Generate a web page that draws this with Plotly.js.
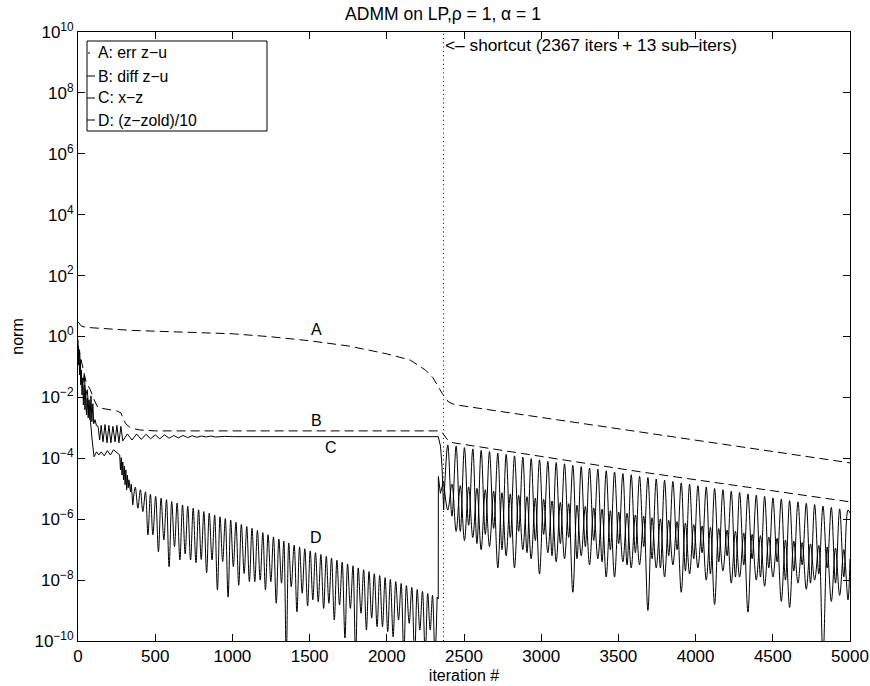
<!DOCTYPE html>
<html>
<head>
<meta charset="utf-8">
<script src="https://cdn.plot.ly/plotly-3.0.1.min.js"></script>
<style>html,body{margin:0;padding:0;background:#fff;}#chart{width:870px;height:686px;}</style>
</head>
<body>
<div id="chart"></div>
<script>
// ---------- DATA (stored as log10 exponents) ----------
// A: err z-u (dashed)
const aIter = [0, 20, 50, 100, 200, 350, 500, 750, 1000, 1250, 1500, 1750, 2000, 2150, 2250, 2300, 2335, 2360, 2380, 2400, 2440, 3000, 3650, 4300, 5000];
const aExp  = [0.48, 0.35, 0.30, 0.29, 0.25, 0.20, 0.17, 0.12, 0.09, -0.01, -0.14, -0.31, -0.57, -0.77, -1.1, -1.36, -1.69, -1.88, -2.01, -2.15, -2.24, -2.66, -3.14, -3.63, -4.15];

// B: diff z-u (dashed)
const bIter = [0, 20, 52, 80, 104, 130, 214, 250, 279, 290, 310, 340, 400, 500, 2340, 2360, 2380, 2400, 2430, 3650, 5000];
const bExp  = [-0.3, -0.77, -1.49, -1.75, -2.08, -2.34, -2.41, -2.44, -2.51, -2.67, -2.87, -3.0, -3.07, -3.1, -3.1, -3.16, -3.3, -3.43, -3.49, -4.45, -5.43];

// C: x-z (solid) — start, plateau and drop at the shortcut
const cHeadIter = [0,3,6,10,14,18,22,26,30,35,40,45,50,55,60,66,72,78,84,90,96,102,110,120,130,140,150,162,175,188,200,213,226,240,252,265,278,290,320,350,380,410,440,470,500,530,560,590,620,650,680,710,740,770,800,830,860,890,950,1000,2333,2348,2358,2368];
const cHeadExp  = [-0.1,-0.93,-0.44,-1.26,-0.77,-1.59,-1.1,-1.92,-1.36,-2.25,-1.59,-2.41,-1.82,-2.57,-2.02,-2.67,-2.08,-2.73,-1.95,-2.8,-2.21,-2.87,-2.73,-2.93,-2.95,-3.4,-2.92,-3.46,-2.89,-3.49,-2.92,-3.49,-2.95,-3.46,-2.92,-3.49,-2.95,-3.43,-3.2,-3.4,-3.2,-3.38,-3.21,-3.36,-3.23,-3.36,-3.23,-3.34,-3.25,-3.33,-3.25,-3.32,-3.26,-3.31,-3.27,-3.3,-3.27,-3.3,-3.28,-3.29,-3.29,-3.6,-4.3,-5.7];

// iterations of the arc tops / troughs after the shortcut
const postIterA = [2395,2449,2503,2557,2611,2665,2719,2773,2827,2881,2935,2989,3043,3097,3151,3205,3259,3313,3367,3421,3475,3529,3583,3637,3691,3745,3799,3853,3907,3961,4015,4069,4123,4177,4231,4285,4339,4393,4447,4501,4555,4609,4663,4717,4771,4825,4879,4933,4987];
const postIterB = [2368,2422,2476,2530,2584,2638,2692,2746,2800,2854,2908,2962,3016,3070,3124,3178,3232,3286,3340,3394,3448,3502,3556,3610,3664,3718,3772,3826,3880,3934,3988,4042,4096,4150,4204,4258,4312,4366,4420,4474,4528,4582,4636,4690,4744,4798,4852,4906,4960];

// C after the shortcut: tops (at postIterA) and troughs (at postIterB)
const cTopExp = [-3.56,-3.60,-3.65,-3.69,-3.74,-3.78,-3.83,-3.87,-3.92,-3.96,-4.01,-4.05,-4.10,-4.14,-4.18,-4.23,-4.27,-4.32,-4.36,-4.41,-4.45,-4.50,-4.54,-4.59,-4.63,-4.68,-4.72,-4.76,-4.81,-4.85,-4.90,-4.94,-4.99,-5.03,-5.08,-5.12,-5.17,-5.21,-5.25,-5.30,-5.34,-5.39,-5.43,-5.48,-5.52,-5.57,-5.61,-5.66,-5.70];
const cLowExp = [-5.7,-5.9,-6.4,-6.2,-6.8,-6.5,-6.3,-7.0,-6.6,-6.4,-7.1,-6.7,-6.5,-7.2,-6.8,-6.6,-7.3,-6.9,-6.7,-7.4,-7.0,-6.8,-7.5,-7.1,-6.9,-7.3,-7.6,-7.2,-7.0,-7.7,-7.3,-7.1,-7.8,-7.4,-7.2,-7.9,-7.5,-7.3,-7.9,-7.6,-7.4,-8.0,-7.7,-7.5,-8.1,-7.8,-7.6,-8.1,-7.9];
const cEndIter = [5000], cEndExp = [-5.8];

// D: (z-zold)/10 (solid) — start
const dHeadIter = [0,5,10,15,20,30,40,50,60,70,80,90,104,120,135,150,170,190,210,230,250,270,275,280,285,290,295,300,305,310,315,320,325,330,340,345,355];
const dHeadExp  = [-0.3,-0.77,-0.44,-1.16,-1.32,-1.59,-1.26,-1.92,-1.75,-2.41,-2.73,-3.33,-3.95,-3.79,-3.89,-3.79,-3.92,-3.75,-3.89,-3.72,-3.82,-3.89,-4.38,-3.98,-4.55,-4.12,-4.71,-4.25,-4.87,-4.38,-5.04,-4.55,-4.97,-4.71,-5.1,-4.85,-5.53];

// D before the shortcut: troughs and tops of the arcs
const dPreLowIter = [355,388,420,453,485,521,556,590,625,660,694,729,764,798,833,868,903,937,972,1006,1041,1076,1110,1145,1180,1214,1249,1284,1318,1349,1381,1418,1452,1487,1521,1556,1591,1625,1660,1694,1729,1764,1798,1833,1868,1902,1937,1972,2006,2041,2076,2110,2145,2180,2214,2249,2281,2312];
const dPreLowExp  = [-5.53,-5.64,-5.75,-6.52,-6.52,-7.07,-6.68,-7.56,-6.9,-7.34,-7.14,-7.34,-7.43,-7.32,-7.76,-7.34,-8.32,-7.39,-8.56,-7.56,-8.17,-7.78,-8.05,-8.05,-8.0,-8.32,-8.05,-8.76,-8.1,-10.5,-8.22,-9.04,-8.43,-8.85,-8.65,-8.71,-8.93,-8.76,-9.31,-8.82,-9.9,-8.93,-10.5,-9.09,-9.64,-9.25,-9.53,-9.53,-9.69,-9.86,-9.31,-10.5,-9.42,-10.5,-9.64,-10.5,-9.64,-10.5];
const dPreTopIter = [371,404,437,469,503,538,573,607,642,677,711,746,781,815,850,885,920,954,989,1023,1058,1093,1127,1162,1197,1231,1266,1301,1333,1365,1400,1435,1469,1504,1538,1573,1608,1642,1677,1711,1746,1781,1815,1850,1885,1919,1954,1989,2023,2058,2093,2127,2162,2197,2231,2265,2296,2326];
const dPreTopExp  = [-4.95,-5.03,-5.10,-5.18,-5.25,-5.31,-5.36,-5.42,-5.47,-5.53,-5.58,-5.64,-5.69,-5.75,-5.80,-5.86,-5.92,-5.98,-6.03,-6.10,-6.17,-6.24,-6.30,-6.37,-6.44,-6.51,-6.58,-6.65,-6.72,-6.78,-6.85,-6.91,-6.97,-7.04,-7.10,-7.16,-7.22,-7.28,-7.35,-7.41,-7.47,-7.53,-7.60,-7.66,-7.72,-7.79,-7.85,-7.92,-7.98,-8.05,-8.11,-8.18,-8.24,-8.31,-8.37,-8.44,-8.50,-8.56];

// D jump at the shortcut
const dJumpIter = [2326, 2333, 2334, 2347, 2368];
const dJumpExp  = [-8.56, -8.62, -4.6, -5.15, -4.75];

// D after the shortcut: tops (at postIterB) and troughs (at postIterA)
const dTopExp = [-4.75,-4.85,-4.90,-4.94,-4.99,-5.03,-5.08,-5.13,-5.17,-5.22,-5.26,-5.31,-5.35,-5.40,-5.45,-5.49,-5.54,-5.58,-5.63,-5.67,-5.72,-5.77,-5.81,-5.86,-5.90,-5.95,-5.99,-6.04,-6.08,-6.13,-6.18,-6.22,-6.27,-6.31,-6.36,-6.40,-6.45,-6.50,-6.54,-6.59,-6.63,-6.68,-6.72,-6.77,-6.81,-6.86,-6.91,-6.95,-7.00];
const dLowExp = [-5.7,-6.4,-6.7,-6.6,-7.0,-6.9,-7.6,-7.2,-7.6,-7.0,-7.3,-7.8,-7.1,-7.4,-7.3,-8.4,-7.2,-7.5,-7.3,-7.9,-7.9,-7.4,-7.6,-7.5,-9.0,-7.6,-7.9,-7.5,-8.4,-7.8,-7.6,-8.0,-8.8,-7.7,-8.1,-7.9,-9.05,-8.0,-8.2,-7.9,-8.7,-8.9,-8.1,-8.3,-8.0,-10.6,-8.7,-8.5,-8.65];
const dEndIter = [5000], dEndExp = [-7.3];

// labels
const legendLabels = ['A: err z\u2212u', 'B: diff z\u2212u', 'C: x\u2212z', 'D: (z\u2212zold)/10'];
const curveLabels = ['A', 'B', 'C', 'D'];
const curveLabelIter = [1542, 1542, 1640, 1542];
const curveLabelExp = [0.22, -2.77, -3.63, -6.6];
const shortcutIter = 2367;
const shortcutText = '<\u2013 shortcut (2367 iters + 13 sub\u2013iters)';
const xTickVals = [0, 500, 1000, 1500, 2000, 2500, 3000, 3500, 4000, 4500, 5000];
const yTickExp = [-10, -8, -6, -4, -2, 0, 2, 4, 6, 8, 10];

// ---------- BUILD ----------
const pow = e => e.map(v => Math.pow(10, v));
function merge(ix1, e1, ix2, e2, ix3, e3) {
  const pts = [];
  ix1.forEach((x, i) => pts.push([x, e1[i]]));
  ix2.forEach((x, i) => pts.push([x, e2[i]]));
  if (ix3) ix3.forEach((x, i) => pts.push([x, e3[i]]));
  pts.sort((p, q) => p[0] - q[0]);
  return { x: pts.map(p => p[0]), y: pts.map(p => Math.pow(10, p[1])) };
}

const FONT = 'Liberation Sans, Arial, Helvetica, sans-serif';
const dashed = '9px,5px';
const base = { type: 'scatter', mode: 'lines', hoverinfo: 'skip', showlegend: false };
const blk = (extra) => Object.assign({ color: '#000', width: 1 }, extra || {});

const cArc = merge(postIterA, cTopExp, postIterB, cLowExp, cEndIter, cEndExp);
const dPre = merge(dPreLowIter, dPreLowExp, dPreTopIter, dPreTopExp);
const dPost = merge(postIterB, dTopExp, postIterA, dLowExp, dEndIter, dEndExp);

const traces = [
  Object.assign({}, base, { x: aIter, y: pow(aExp), line: blk({ dash: dashed }) }),
  Object.assign({}, base, { x: bIter, y: pow(bExp), line: blk({ dash: dashed }) }),
  Object.assign({}, base, { x: cHeadIter, y: pow(cHeadExp), line: blk() }),
  Object.assign({}, base, { x: cArc.x, y: cArc.y, line: blk({ shape: 'spline', smoothing: 1 }) }),
  Object.assign({}, base, { x: dHeadIter, y: pow(dHeadExp), line: blk() }),
  Object.assign({}, base, { x: dPre.x, y: dPre.y, line: blk({ shape: 'spline', smoothing: 1 }) }),
  Object.assign({}, base, { x: dJumpIter, y: pow(dJumpExp), line: blk() }),
  Object.assign({}, base, { x: dPost.x, y: dPost.y, line: blk({ shape: 'spline', smoothing: 1 }) })
];

// pixel helpers for layout placement
const L = 78, R = 850, T = 32, B = 641, W = 870, H = 686;
const xp = px => (px - L) / (R - L);
const yp = py => (B - py) / (B - T);

const legendY = [53, 76, 98, 120];
const shapes = [
  { type: 'line', xref: 'x', yref: 'paper', x0: shortcutIter, x1: shortcutIter, y0: 0, y1: 1,
    line: { color: '#000', width: 1, dash: '1px,3.3px' } },
  { type: 'rect', xref: 'paper', yref: 'paper', x0: xp(87), x1: xp(267), y0: yp(131), y1: yp(41),
    line: { color: '#000', width: 1 }, fillcolor: '#fff' },
  { type: 'line', xref: 'paper', yref: 'paper', x0: xp(88), x1: xp(90), y0: yp(legendY[0]), y1: yp(legendY[0]), line: { color: '#000', width: 1 } },
  { type: 'line', xref: 'paper', yref: 'paper', x0: xp(87), x1: xp(95), y0: yp(legendY[1]), y1: yp(legendY[1]), line: { color: '#000', width: 1 } },
  { type: 'line', xref: 'paper', yref: 'paper', x0: xp(87), x1: xp(95), y0: yp(legendY[2]), y1: yp(legendY[2]), line: { color: '#000', width: 1 } },
  { type: 'line', xref: 'paper', yref: 'paper', x0: xp(87), x1: xp(95), y0: yp(legendY[3]), y1: yp(legendY[3]), line: { color: '#000', width: 1 } }
];

const annotations = [];
legendLabels.forEach((t, i) => annotations.push({
  text: t, xref: 'paper', yref: 'paper', x: xp(96), y: yp(legendY[i]), xanchor: 'left', yanchor: 'middle',
  showarrow: false, font: { family: FONT, size: 15.8, color: '#000' }
}));
curveLabels.forEach((t, i) => annotations.push({
  text: t, xref: 'x', yref: 'y', x: curveLabelIter[i], y: curveLabelExp[i], xanchor: 'center', yanchor: 'middle',
  showarrow: false, font: { family: FONT, size: 16, color: '#000' }
}));
annotations.push({
  text: shortcutText, xref: 'x', yref: 'paper', x: shortcutIter, xshift: 0, y: yp(45), xanchor: 'left', yanchor: 'middle',
  showarrow: false, font: { family: FONT, size: 17.3, color: '#000' }
});

const layout = {
  width: W, height: H,
  margin: { l: L, r: W - R, t: T, b: H - B, pad: 0 },
  paper_bgcolor: '#fff', plot_bgcolor: '#fff',
  font: { family: FONT, size: 17, color: '#000' },
  title: { text: 'ADMM on LP,\u03c1 = 1, \u03b1 = 1', font: { family: FONT, size: 17.5, color: '#000' },
           xref: 'container', x: 443 / W, xanchor: 'center', yref: 'container', y: 1 - 14 / H, yanchor: 'middle' },
  xaxis: {
    range: [0, 5000], tickvals: xTickVals, ticks: 'inside', ticklen: 7, tickwidth: 1, tickcolor: '#000',
    showline: true, linecolor: '#000', linewidth: 1, mirror: 'ticks', showgrid: false, zeroline: false,
    tickfont: { family: FONT, size: 17, color: '#000' },
    title: { text: 'iteration #', font: { family: FONT, size: 16, color: '#000' }, standoff: 4 }
  },
  yaxis: {
    type: 'log', range: [-10, 10], tickvals: yTickExp.map(e => Math.pow(10, e)),
    ticktext: yTickExp.map(e => '10<sup>' + (e < 0 ? '\u2212' : '') + Math.abs(e) + '</sup>'),
    ticks: 'inside', ticklen: 7, tickwidth: 1, tickcolor: '#000',
    showline: true, linecolor: '#000', linewidth: 1, mirror: 'ticks', showgrid: false, zeroline: false,
    tickfont: { family: FONT, size: 17, color: '#000' },
    title: { text: 'norm', font: { family: FONT, size: 16, color: '#000' }, standoff: 6 }
  },
  shapes: shapes,
  annotations: annotations
};

Plotly.newPlot('chart', traces, layout, { staticPlot: true, displayModeBar: false });
</script>
</body>
</html>
